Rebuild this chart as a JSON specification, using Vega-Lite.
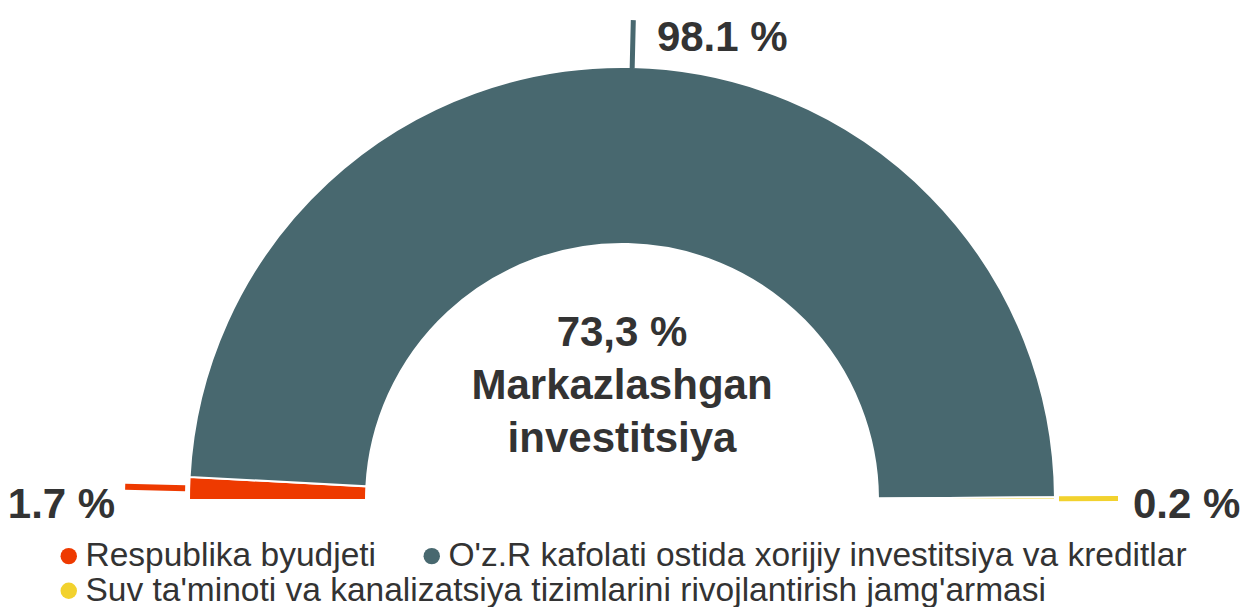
{
  "$schema": "https://vega.github.io/schema/vega-lite/v6.json",
  "width": 1244,
  "height": 1000,
  "autosize": {"type": "none"},
  "padding": 0,
  "background": "white",
  "config": {"view": {"stroke": null}},
  "data": {"values": [
    {"k": "Respublika byudjeti", "v": 1.7, "ord": 1, "label": "1.7 %"},
    {"k": "O'z.R kafolati ostida xorijiy investitsiya va kreditlar", "v": 98.1, "ord": 2, "label": "98.1 %"},
    {"k": "Suv ta'minoti va kanalizatsiya tizimlarini rivojlantirish jamg'armasi", "v": 0.2, "ord": 3, "label": "0.2 %"}
  ]},
  "layer": [
    {
      "mark": {"type": "arc", "radius": 433, "radius2": 256, "stroke": "white", "strokeWidth": 2},
      "encoding": {
        "theta": {"field": "v", "type": "quantitative", "stack": true, "scale": {"range": [-1.5708, 1.5708]}},
        "order": {"field": "ord"},
        "color": {
          "field": "k", "type": "nominal",
          "scale": {
            "domain": ["Respublika byudjeti", "O'z.R kafolati ostida xorijiy investitsiya va kreditlar", "Suv ta'minoti va kanalizatsiya tizimlarini rivojlantirish jamg'armasi"],
            "range": ["#EE3A00", "#48686F", "#F2D22E"]
          },
          "legend": {
            "orient": "none", "legendX": 52, "legendY": 539,
            "direction": "horizontal",
            "values": ["Respublika byudjeti", "O'z.R kafolati ostida xorijiy investitsiya va kreditlar"],
            "title": null, "labelFontSize": 33.5, "labelFont": "Liberation Sans", "labelColor": "#333333",
            "symbolType": "circle", "symbolSize": 270, "symbolStrokeWidth": 0,
            "labelLimit": 1200, "columnPadding": 38, "labelOffset": 0
          }
        }
      }
    },
    {
      "transform": [
        {"stack": "v", "groupby": [], "sort": [{"field": "ord"}], "as": ["v0", "v1"]},
        {"fold": ["v0", "v1"], "as": ["which", "pos"]},
        {"aggregate": [{"op": "mean", "field": "pos", "as": "mid"}], "groupby": ["k"]},
        {"fold": ["k"], "as": ["kk", "name"]}
      ],
      "encoding": {
        "theta": {"field": "mid", "type": "quantitative"},
        "theta2": {"field": "mid"},
        "stroke": {
          "field": "name", "type": "nominal",
          "scale": {
            "domain": ["Suv ta'minoti va kanalizatsiya tizimlarini rivojlantirish jamg'armasi", "Respublika byudjeti", "O'z.R kafolati ostida xorijiy investitsiya va kreditlar"],
            "range": ["#F2D22E", "#EE3A00", "#48686F"]
          },
          "legend": {
            "orient": "none", "legendX": 52, "legendY": 574,
            "values": ["Suv ta'minoti va kanalizatsiya tizimlarini rivojlantirish jamg'armasi"],
            "title": null, "labelFontSize": 33.5, "labelFont": "Liberation Sans", "labelColor": "#333333",
            "symbolType": "circle", "symbolSize": 270,
            "symbolFillColor": "#F2D22E", "symbolStrokeWidth": 0, "symbolOpacity": 1,
            "labelLimit": 1200, "labelOffset": 0
          }
        }
      },
      "layer": [
        {"transform": [{"filter": "datum.name === 'Respublika byudjeti'"}],
         "mark": {"type": "arc", "radius": 497, "radius2": 437, "strokeWidth": 6, "fill": "#F2D22E", "fillOpacity": 0}},
        {"transform": [{"filter": "datum.name === \"O'z.R kafolati ostida xorijiy investitsiya va kreditlar\""}],
         "mark": {"type": "arc", "radius": 480, "radius2": 432, "strokeWidth": 5, "fill": "#F2D22E", "fillOpacity": 0}},
        {"transform": [{"filter": "datum.name === \"Suv ta'minoti va kanalizatsiya tizimlarini rivojlantirish jamg'armasi\""}],
         "mark": {"type": "arc", "radius": 496, "radius2": 437, "strokeWidth": 5, "fill": "#F2D22E", "fillOpacity": 0}}
      ]
    },
    {
      "mark": {"type": "text", "radius": 507, "align": "right", "baseline": "middle", "dy": 19, "fontSize": 42, "fontWeight": "bold", "font": "Liberation Sans", "color": "#333333"},
      "encoding": {
        "theta": {"field": "v", "type": "quantitative", "stack": true},
        "order": {"field": "ord"},
        "detail": {"field": "k"},
        "text": {"condition": {"test": "datum.ord === 1", "field": "label"}, "value": ""}
      }
    },
    {
      "mark": {"type": "text", "radius": 462, "align": "left", "baseline": "middle", "dx": 24, "fontSize": 42, "fontWeight": "bold", "font": "Liberation Sans", "color": "#333333"},
      "encoding": {
        "theta": {"field": "v", "type": "quantitative", "stack": true},
        "order": {"field": "ord"},
        "detail": {"field": "k"},
        "text": {"condition": {"test": "datum.ord === 2", "field": "label"}, "value": ""}
      }
    },
    {
      "mark": {"type": "text", "radius": 511, "align": "left", "baseline": "middle", "dy": 7, "fontSize": 42, "fontWeight": "bold", "font": "Liberation Sans", "color": "#333333"},
      "encoding": {
        "theta": {"field": "v", "type": "quantitative", "stack": true},
        "order": {"field": "ord"},
        "detail": {"field": "k"},
        "text": {"condition": {"test": "datum.ord === 3", "field": "label"}, "value": ""}
      }
    },
    {
      "data": {"values": [{"note": "73,3 %\nMarkazlashgan\ninvestitsiya"}]},
      "mark": {"type": "text", "align": "center", "baseline": "middle", "lineBreak": "\n", "lineHeight": 53, "dy": -167, "fontSize": 42, "fontWeight": "bold", "font": "Liberation Sans", "color": "#333333"},
      "encoding": {"text": {"field": "note"}}
    }
  ]
}
